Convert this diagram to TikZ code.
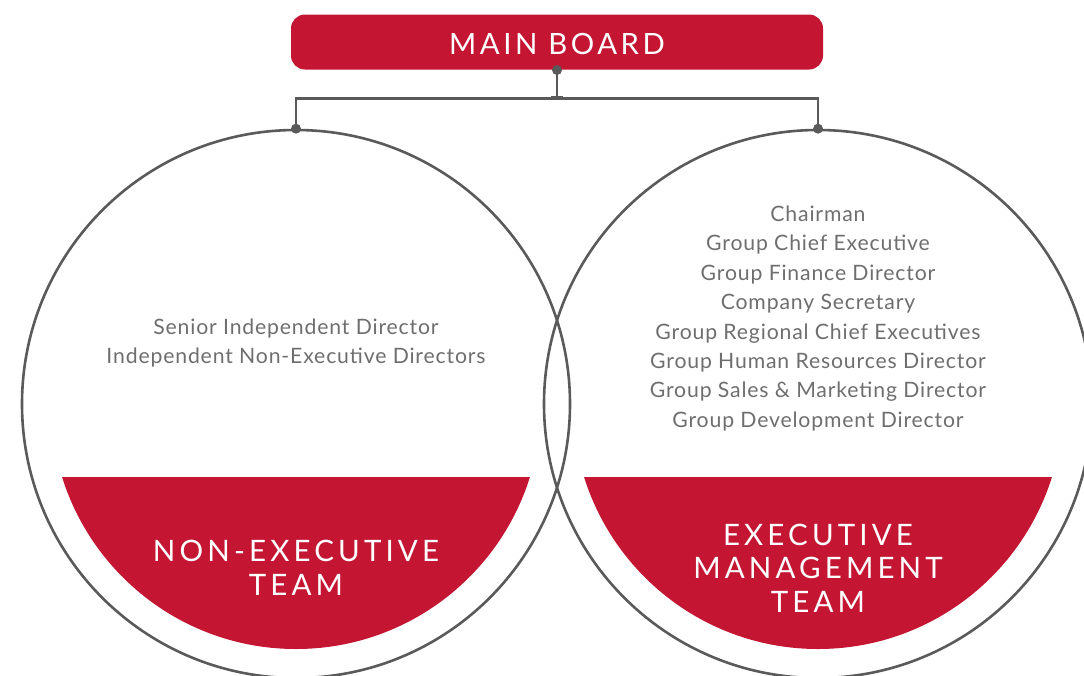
\documentclass[tikz,border=0pt]{standalone}
\usepackage{fontspec}
\setmainfont{Lato}
\newfontfamily\spacedfont[LetterSpace=14]{Lato}
\newfontfamily\bodyfont[LetterSpace=4]{Lato}
\usetikzlibrary{calc}
\definecolor{brandred}{HTML}{C41632}
\definecolor{linegrey}{HTML}{5A5A5A}
\definecolor{textgrey}{HTML}{6E6E6E}
\tikzset{
  ring/.style={circle, draw=linegrey, line width=2.6pt, minimum size=548pt, inner sep=0pt},
  conn/.style={draw=linegrey, line width=2.8pt},
  dotmark/.style={fill=linegrey},
  bodytext/.style={text=textgrey, align=center, font=\bodyfont\fontsize{21.2}{29.4}\selectfont},
  headtext/.style={text=white, align=center, font=\spacedfont\fontsize{29.5}{33.5}\selectfont},
  boardbox/.style={fill=brandred, rounded corners=14pt, minimum width=532pt, minimum height=55pt, inner sep=0pt}
}
\begin{document}
\begin{tikzpicture}[x=1pt,y=-1pt]
\useasboundingbox (0,0) rectangle (1084,675);
\begin{scope}
\clip (0,0) rectangle (1084,675);
% red segments
\begin{scope}
\clip (0,477) rectangle (1084,675);
\fill[brandred] (296,404) circle (245);
\fill[brandred] (818,404) circle (245);
\end{scope}
% circles
\node[ring] (lc) at (296,404) {};
\node[ring] (rc) at (818,404) {};
% main board
\node[boardbox] (mb) at (557,42) {};
\node[headtext, font={\fontspec[LetterSpace=12]{Lato}\fontsize{29.3}{33}\selectfont}] (mbt) at (557,44) {MAIN BOARD};
% connectors
\coordinate (mbdot) at (557,70);
\coordinate (junc) at (557,99.5);
\draw[conn] (mbdot) -- (junc);
\fill[linegrey] ($(junc)+(-6,-3.5)$) rectangle ($(junc)+(6,0)$);
\draw[conn] (lc.north) -- ++(0,-30.5) -| (rc.north);
\fill[dotmark] (mbdot) circle (5);
\fill[dotmark] (lc.north) circle (5);
\fill[dotmark] (rc.north) circle (5);
% texts
\node[bodytext] (ltext) at (296,343) {Senior Independent Director\\Independent Non-Executive Directors};
\node[bodytext] (rtext) at (818,318.5) {Chairman\\Group Chief Executive\\Group Finance Director\\Company Secretary\\Group Regional Chief Executives\\Group Human Resources Director\\Group Sales \& Marketing Director\\Group Development Director};
\node[headtext] (lhead) at (296,568) {NON-EXECUTIVE\\TEAM};
\node[headtext] (rhead) at (818,568) {EXECUTIVE\\MANAGEMENT\\TEAM};
\end{scope}
\end{tikzpicture}
\end{document}
